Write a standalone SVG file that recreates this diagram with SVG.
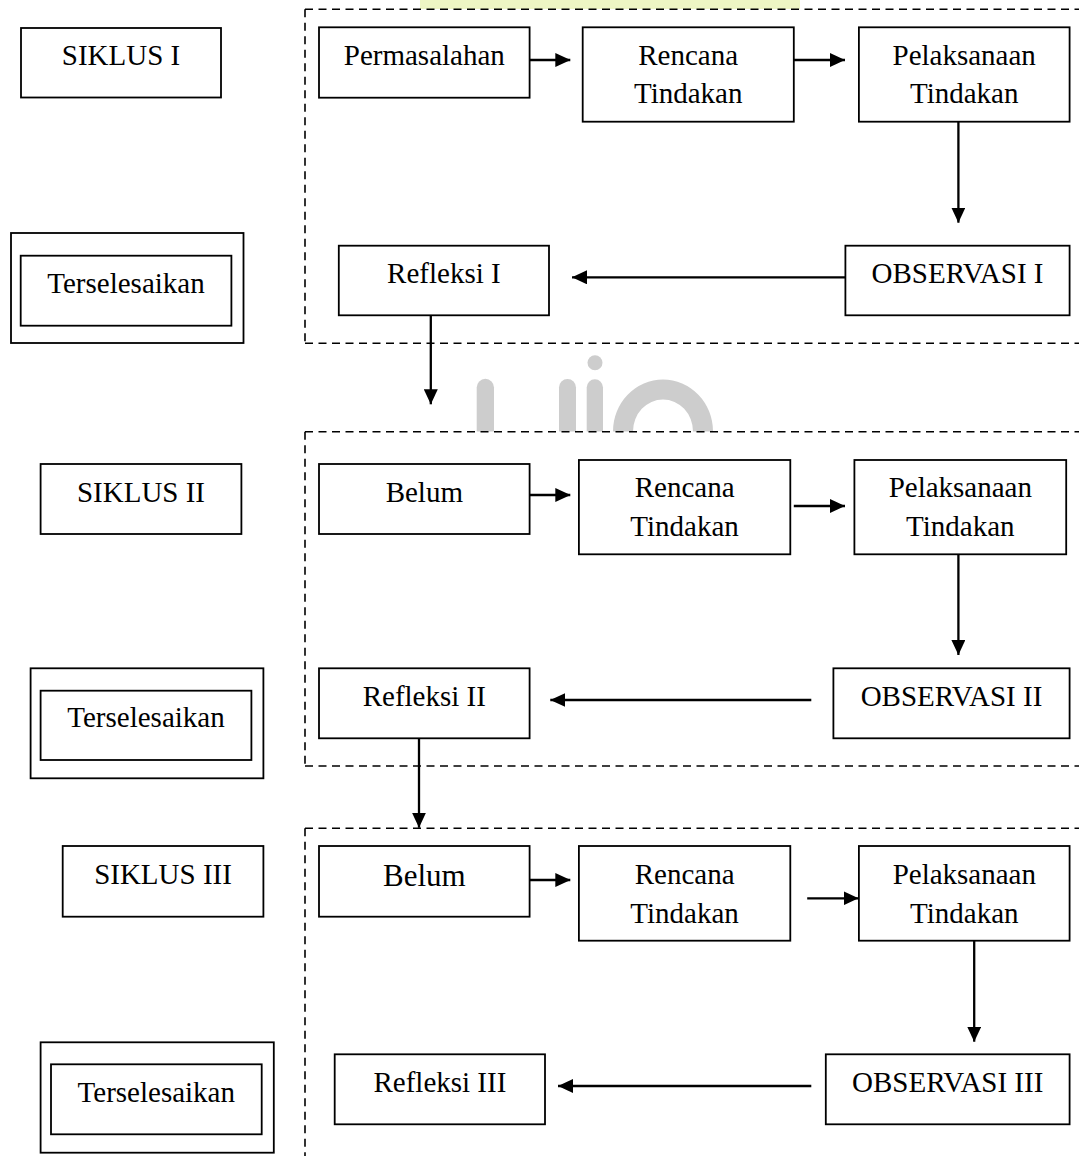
<svg xmlns="http://www.w3.org/2000/svg" width="1079" height="1156" viewBox="0 0 1079 1156">
<style>
  .box{fill:none;stroke:#000;stroke-width:1.8}
  .dash{fill:none;stroke:#000;stroke-width:1.6;stroke-dasharray:8 5.5}
  .conn{fill:none;stroke:#000;stroke-width:2.3}
  text{font-family:"Liberation Serif","Times New Roman",serif;font-size:29px;fill:#000;text-anchor:middle}
  .wm{fill:#cdcdcd}
</style>
<defs>
  <marker id="ah" viewBox="0 0 15 14" refX="15" refY="7" markerWidth="15" markerHeight="14" markerUnits="userSpaceOnUse" orient="auto">
    <path d="M0,0 L15,7 L0,14 Z" fill="#000"/>
  </marker>
</defs>
<rect width="1079" height="1156" fill="#fff"/>

<g id="watermark">
  <rect x="420" y="0" width="380" height="9" fill="#eef6c4"/>
  <path class="wm" d="M476.7,431.5 V387.5 A8.65,8.65 0 0 1 494,387.5 V431.5 Z"/>
  <path class="wm" d="M559,431.5 V387.5 A8.5,8.5 0 0 1 576,387.5 V431.5 Z"/>
  <path class="wm" d="M586.7,431.5 V387.5 A8.15,8.15 0 0 1 603,387.5 V431.5 Z"/>
  <circle class="wm" cx="595" cy="362.7" r="7.5"/>
  <path class="wm" d="M613,431.5 A50,52 0 0 1 713,431.5 L693,431.5 A30,32 0 0 0 633,431.5 Z"/>
</g>

<g id="frames">
  <path class="dash" d="M305,9.3 H1079 M305,9.3 V343.3 M305,343.3 H1079"/>
  <path class="dash" d="M305,431.7 H1079 M305,431.7 V766 M305,766 H1079"/>
  <path class="dash" d="M305,828.3 H1079 M305,828.3 V1156"/>
</g>

<!-- Cycle I -->
<g id="siklus1"><rect class="box" x="21" y="28" width="200" height="69.5"/><text x="121" y="65">SIKLUS I</text></g>
<g id="selesai1"><rect class="box" x="11" y="233" width="232.5" height="110"/><rect class="box" x="20.7" y="255.7" width="210.7" height="70"/><text x="126" y="293.3">Terselesaikan</text></g>
<g id="permasalahan"><rect class="box" x="319" y="27.3" width="210.6" height="70.4"/><text x="424.3" y="65">Permasalahan</text></g>
<g id="rencana1"><rect class="box" x="582.7" y="27.3" width="211.1" height="94.4"/><text x="688.2" y="65">Rencana</text><text x="688.2" y="103">Tindakan</text></g>
<g id="pelaksanaan1"><rect class="box" x="858.9" y="27.3" width="210.7" height="94.4"/><text x="964.2" y="65">Pelaksanaan</text><text x="964.2" y="103">Tindakan</text></g>
<g id="observasi1"><rect class="box" x="845.4" y="245.7" width="224.2" height="69.6"/><text x="957.5" y="282.7">OBSERVASI I</text></g>
<g id="refleksi1"><rect class="box" x="338.8" y="245.7" width="210.2" height="69.6"/><text x="443.9" y="283.3">Refleksi I</text></g>

<!-- Cycle II -->
<g id="siklus2"><rect class="box" x="40.6" y="464" width="200.8" height="70"/><text x="141" y="501.7">SIKLUS II</text></g>
<g id="selesai2"><rect class="box" x="30.6" y="668.3" width="232.8" height="110"/><rect class="box" x="40.6" y="690.7" width="210.8" height="69.3"/><text x="146" y="727.3">Terselesaikan</text></g>
<g id="belum2"><rect class="box" x="319" y="464" width="210.6" height="70"/><text x="424.3" y="501.7">Belum</text></g>
<g id="rencana2"><rect class="box" x="578.9" y="460" width="211.4" height="94.3"/><text x="684.6" y="497.3">Rencana</text><text x="684.6" y="536">Tindakan</text></g>
<g id="pelaksanaan2"><rect class="box" x="854.4" y="460" width="211.8" height="94.3"/><text x="960.3" y="497.3">Pelaksanaan</text><text x="960.3" y="536">Tindakan</text></g>
<g id="observasi2"><rect class="box" x="833.4" y="668.3" width="236.2" height="70"/><text x="951.5" y="705.7">OBSERVASI II</text></g>
<g id="refleksi2"><rect class="box" x="319" y="668.3" width="210.6" height="70"/><text x="424.3" y="705.7">Refleksi II</text></g>

<!-- Cycle III -->
<g id="siklus3"><rect class="box" x="62.7" y="846" width="200.7" height="70.7"/><text x="163" y="884">SIKLUS III</text></g>
<g id="selesai3"><rect class="box" x="40.6" y="1042.3" width="233.2" height="110.4"/><rect class="box" x="51" y="1064.3" width="210.7" height="70"/><text x="156.3" y="1101.7">Terselesaikan</text></g>
<g id="belum3"><rect class="box" x="319" y="846" width="210.6" height="70.7"/><text x="424.3" y="886" style="font-size:31px">Belum</text></g>
<g id="rencana3"><rect class="box" x="578.9" y="846" width="211.4" height="94.7"/><text x="684.6" y="884">Rencana</text><text x="684.6" y="922.7">Tindakan</text></g>
<g id="pelaksanaan3"><rect class="box" x="858.9" y="846" width="210.7" height="94.7"/><text x="964.3" y="884">Pelaksanaan</text><text x="964.3" y="922.7">Tindakan</text></g>
<g id="observasi3"><rect class="box" x="825.8" y="1054.3" width="243.8" height="70"/><text x="947.7" y="1091.7">OBSERVASI III</text></g>
<g id="refleksi3"><rect class="box" x="334.7" y="1054.3" width="210.3" height="70"/><text x="439.9" y="1091.7">Refleksi III</text></g>

<g id="connectors">
  <path class="conn" marker-end="url(#ah)" d="M529.6,60 H570.3"/>
  <path class="conn" marker-end="url(#ah)" d="M794,60 H845"/>
  <path class="conn" marker-end="url(#ah)" d="M958.4,121.7 V222.7"/>
  <path class="conn" marker-end="url(#ah)" d="M845.4,277.3 H572"/>
  <path class="conn" marker-end="url(#ah)" d="M430.8,315.3 V404.3"/>
  <path class="conn" marker-end="url(#ah)" d="M529.6,495 H570.3"/>
  <path class="conn" marker-end="url(#ah)" d="M793.8,506 H845"/>
  <path class="conn" marker-end="url(#ah)" d="M958.4,554.3 V655"/>
  <path class="conn" marker-end="url(#ah)" d="M811.3,700 H550.3"/>
  <path class="conn" marker-end="url(#ah)" d="M419,738.3 V827.7"/>
  <path class="conn" marker-end="url(#ah)" d="M529.6,880 H570.3"/>
  <path class="conn" marker-end="url(#ah)" d="M807.2,898.3 H858.5"/>
  <path class="conn" marker-end="url(#ah)" d="M974.2,940.7 V1041.7"/>
  <path class="conn" marker-end="url(#ah)" d="M811.3,1086 H558"/>
</g>
</svg>
